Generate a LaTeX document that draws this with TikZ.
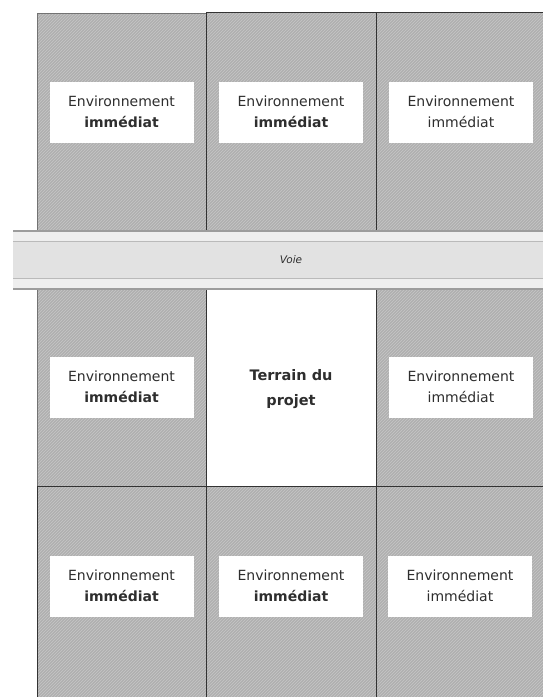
\documentclass[tikz,border=0pt]{standalone}
\usepackage{fontspec}
\setmainfont{DejaVu Sans}
\usetikzlibrary{patterns}
\definecolor{hatchbase}{HTML}{B0B0B0}
\definecolor{hatchline}{HTML}{C6C6C6}
\definecolor{roadfill}{HTML}{E2E2E2}
\definecolor{roadband}{HTML}{EEEEEE}
\definecolor{roadline}{HTML}{9C9C9C}
\definecolor{txt}{HTML}{2E2E2E}
\tikzset{
  envfill/.style={fill=hatchbase, postaction={pattern=north east lines, pattern color=hatchline}},
  cellline/.style={draw=black!80, line width=1pt},
  softline/.style={draw=black!55, line width=1pt},
  labelbox/.style={fill=white, minimum width=144pt, minimum height=61pt, inner sep=0pt, align=center, text=txt, font=\fontsize{14}{21}\selectfont},
  projlabel/.style={align=center, text=txt, font=\bfseries\fontsize{14.5}{25}\selectfont},
  roadlabel/.style={text=txt, font=\itshape\fontsize{10.5}{12}\selectfont}
}
\begin{document}
\begin{tikzpicture}[x=1pt,y=-1pt]
\useasboundingbox (0,0) rectangle (542,697);
% fills
\path[envfill] (37,13) rectangle (206,231);
\path[envfill] (206,12) rectangle (376,231);
\path[envfill] (376,12) rectangle (546,231);
\path[envfill] (37,289) rectangle (206,486);
\path[fill=white] (206,289) rectangle (376,486);
\path[envfill] (376,289) rectangle (546,486);
\path[envfill] (37,486) rectangle (206,702);
\path[envfill] (206,486) rectangle (376,702);
\path[envfill] (376,486) rectangle (546,702);
% borders
\draw[softline] (37,13) rectangle (206,231);
\draw[cellline] (206,12) rectangle (376,231);
\draw[cellline] (376,12) rectangle (546,231);
\draw[softline] (37,289) rectangle (206,486);
\draw[cellline] (206,289) rectangle (376,486);
\draw[cellline] (376,289) rectangle (546,486);
\draw[cellline] (37,486) rectangle (206,702);
\draw[cellline] (206,486) rectangle (376,702);
\draw[cellline] (376,486) rectangle (546,702);
% road
\path[fill=roadband] (13,231) rectangle (546,289);
\path[fill=roadfill] (13,241) rectangle (546,278);
\draw[roadline, line width=1.2pt] (13,231) -- (546,231);
\draw[roadline, line width=1.2pt] (13,289) -- (546,289);
\draw[roadline!70, line width=0.8pt] (13,241) -- (546,241);
\draw[roadline!70, line width=0.8pt] (13,278) -- (546,278);
\node[roadlabel] (voie) at (291,260) {Voie};
% labels
\node[labelbox] (tl) at (121.5,112) {Environnement\\\textbf{immédiat}};
\node[labelbox] (tm) at (291,112) {Environnement\\\textbf{immédiat}};
\node[labelbox] (tr) at (461,112) {Environnement\\immédiat};
\node[labelbox] (ml) at (121.5,387) {Environnement\\\textbf{immédiat}};
\node[projlabel] (proj) at (291,389) {Terrain du\\projet};
\node[labelbox] (mr) at (461,387) {Environnement\\immédiat};
\node[labelbox] (bl) at (121.5,586) {Environnement\\\textbf{immédiat}};
\node[labelbox] (bm) at (291,586) {Environnement\\\textbf{immédiat}};
\node[labelbox] (br) at (460,586) {Environnement\\immédiat};
\end{tikzpicture}
\end{document}
